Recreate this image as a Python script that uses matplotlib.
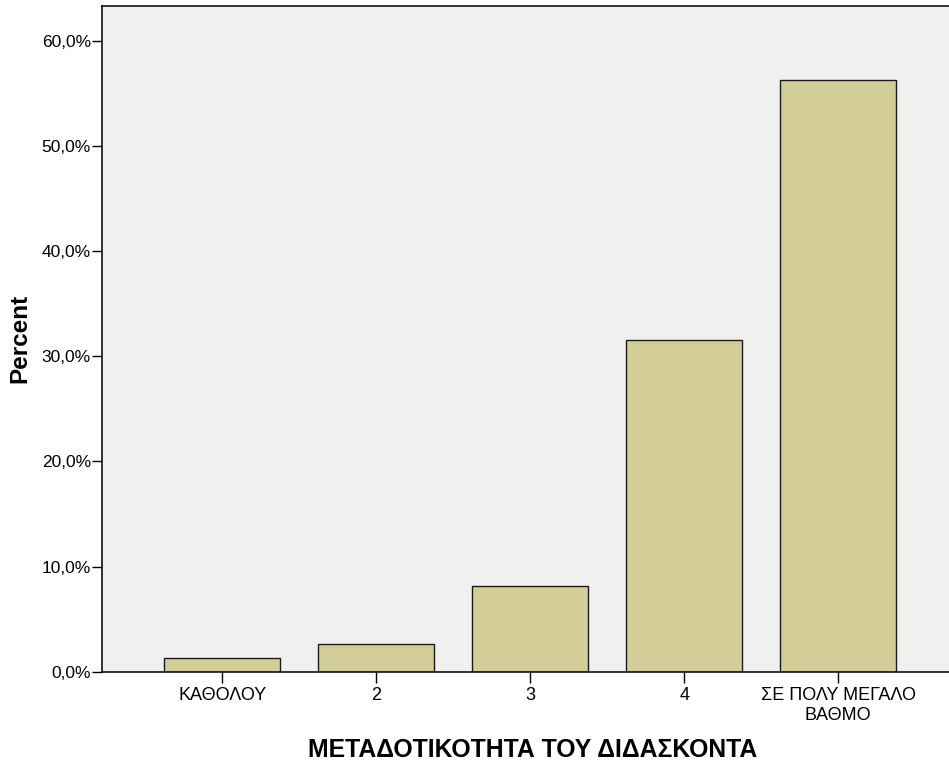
import matplotlib.pyplot as plt
from matplotlib.ticker import FuncFormatter

plt.rcParams['font.family'] = ['Liberation Sans', 'DejaVu Sans']

# Percent of answers per category
categories = ['ΚΑΘΟΛΟΥ', '2', '3', '4', 'ΣΕ ΠΟΛΥ ΜΕΓΑΛΟ\nΒΑΘΜΟ']
percent = [1.33, 2.66, 8.16, 31.54, 56.30]
yticks = [0, 10, 20, 30, 40, 50, 60]

fig = plt.figure(figsize=(9.49, 7.64), dpi=100)
ax = fig.add_axes([0.1075, 0.1208, 0.8925, 0.8713])
ax.set_facecolor('#F0F0F0')

x = range(len(categories))
ax.bar(x, percent, width=0.753, color='#D3CE98', edgecolor='#1a1a1a', linewidth=1.0)

ax.set_xlim(-0.781, 4.719)
ax.set_ylim(0, 63.3)
ax.set_yticks(yticks)
ax.yaxis.set_major_formatter(FuncFormatter(lambda v, p: f"{v:.1f}%".replace('.', ',')))
ax.set_xticks(list(x))
ax.set_xticklabels(categories, linespacing=1.25)

ax.tick_params(axis='y', direction='out', length=7, width=1.0, pad=1, labelsize=12.5)
ax.tick_params(axis='x', direction='out', length=8, width=1.0, pad=3, labelsize=13)

for side in ['left', 'bottom', 'top']:
    ax.spines[side].set_linewidth(1.2)
    ax.spines[side].set_color('#111111')
ax.spines['right'].set_visible(False)

ax.set_ylabel('Percent', fontsize=17.5, fontweight='bold')
ax.yaxis.set_label_coords(-0.083, 0.5)
ax.set_xlabel('ΜΕΤΑΔΟΤΙΚΟΤΗΤΑ ΤΟΥ ΔΙΔΑΣΚΟΝΤΑ', fontsize=17.8, fontweight='bold')
ax.xaxis.set_label_coords(0.508, -0.1)

fig.savefig('out.png', dpi=100)
